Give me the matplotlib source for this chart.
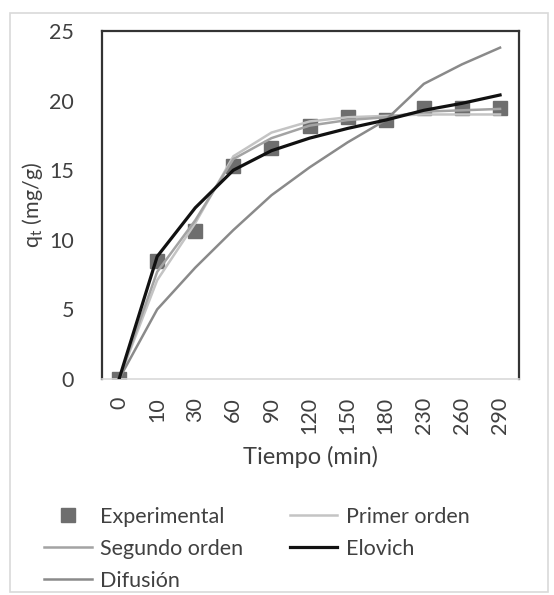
import matplotlib
matplotlib.use("Agg")
import matplotlib.pyplot as plt
from matplotlib.patches import Rectangle
import numpy as np

plt.rcParams['font.family'] = ['Lato', 'DejaVu Sans']

# datos
tiempo = ['0', '10', '30', '60', '90', '120', '150', '180', '230', '260', '290']
experimental = [0, 8.5, 10.6, 15.3, 16.6, 18.2, 18.8, 18.6, 19.5, 19.5, 19.5]
primer_orden = [0, 7.1, 11.2, 16.0, 17.7, 18.5, 18.8, 18.9, 19.0, 19.0, 19.0]
segundo_orden = [0, 7.7, 11.4, 15.8, 17.3, 18.2, 18.6, 18.8, 19.2, 19.3, 19.4]
elovich = [0, 8.8, 12.3, 15.0, 16.4, 17.3, 18.0, 18.6, 19.3, 19.8, 20.4]
difusion = [0, 5.0, 8.0, 10.7, 13.2, 15.2, 17.0, 18.6, 21.2, 22.6, 23.8]

x = np.arange(len(tiempo))

fig = plt.figure(figsize=(5.54, 5.95), dpi=100)
ax = fig.add_axes([0.184, 0.363, 0.753, 0.585])

# borde de la figura
fig.patches.append(Rectangle((10 / 554, 3 / 595), 538 / 554, 579 / 595,
                             transform=fig.transFigure, fill=False,
                             edgecolor='#d9d9d9', linewidth=1.2))

h_exp, = ax.plot(x, experimental, 's', color='#6e6e6e', markersize=10,
                 zorder=2, label='Experimental')
h_pri, = ax.plot(x, primer_orden, '-', color='#c4c4c4', linewidth=1.8,
                 zorder=3, label='Primer orden')
h_seg, = ax.plot(x, segundo_orden, '-', color='#a3a3a3', linewidth=1.8,
                 zorder=3, label='Segundo orden')
h_dif, = ax.plot(x, difusion, '-', color='#8a8a8a', linewidth=1.8,
                 zorder=3, label='Difusión')
h_elo, = ax.plot(x, elovich, '-', color='#111111', linewidth=2.3,
                 zorder=4, label='Elovich')

ax.set_xlim(-0.45, 10.5)
ax.set_ylim(0, 25)
ax.set_yticks([0, 5, 10, 15, 20, 25])
ax.set_xticks(x)
ax.set_xticklabels(tiempo, rotation=90)
ax.tick_params(axis='both', length=0, labelsize=15.5, labelcolor='#404040')
ax.tick_params(axis='y', pad=20)
ax.tick_params(axis='x', pad=13)

for lado in ['left', 'top', 'right']:
    ax.spines[lado].set_color('#333333')
    ax.spines[lado].set_linewidth(1.6)
ax.spines['bottom'].set_color('#d9d9d9')
ax.spines['bottom'].set_linewidth(1.2)

ax.set_xlabel('Tiempo (min)', fontsize=17, color='#404040', labelpad=8)
ax.set_ylabel(r'q$_\mathregular{t}$ (mg/g)', fontsize=15.5, color='#404040',
              labelpad=3)

# leyenda en dos columnas (orden por columnas)
fig.legend(handles=[h_exp, h_seg, h_dif, h_pri, h_elo],
           labels=['Experimental', 'Segundo orden', 'Difusión',
                   'Primer orden', 'Elovich'],
           ncol=2, loc='upper left', bbox_to_anchor=(0.08, 0.148),
           frameon=False, fontsize=15.5, labelcolor='#404040',
           handlelength=2.2, handletextpad=0.4, columnspacing=2.15,
           labelspacing=0.55, borderaxespad=0, borderpad=0)

fig.savefig('out.png', dpi=100)
